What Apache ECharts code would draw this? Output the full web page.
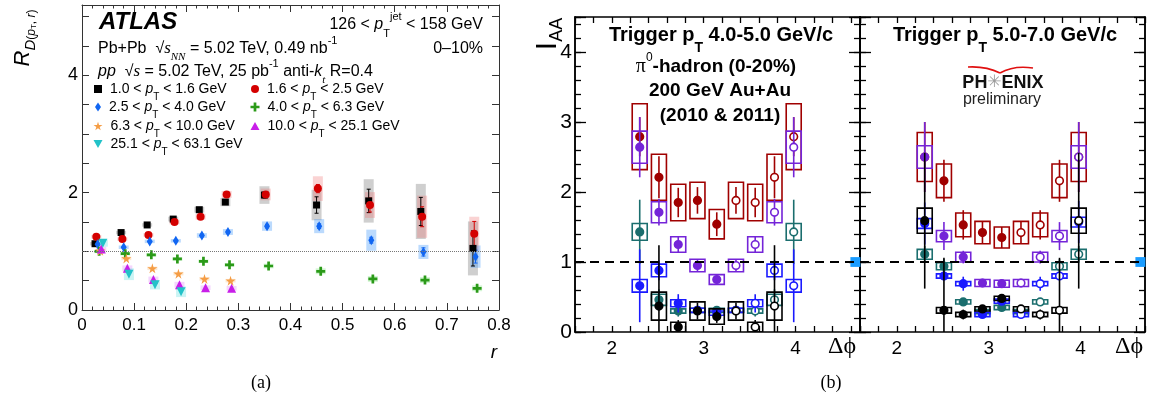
<!DOCTYPE html>
<html><head><meta charset="utf-8">
<script src="https://cdn.jsdelivr.net/npm/echarts@6/dist/echarts.min.js"></script>
<style>html,body{margin:0;padding:0;background:#fff}#c{width:1150px;height:403px}</style>
</head><body><div id="c"></div><script>
const SANS = '"Liberation Sans", Arial, Helvetica, sans-serif';
const SERIF = '"Liberation Serif", "Times New Roman", serif';

// ---------- (a) ATLAS: R_D vs r ----------
const rBlack = [0.025,0.075,0.125,0.175,0.225,0.275,0.350,0.450,0.550,0.650,0.750];
const vBlack = [1.13,1.32,1.45,1.55,1.71,1.84,1.96,1.79,1.86,1.68,1.05];
const sysBlack = [0.03,0.03,0.03,0.04,0.05,0.07,0.15,0.26,0.37,0.47,0.46];
const statBlack = [0.01,0.01,0.01,0.01,0.02,0.03,0.05,0.14,0.20,0.24,0.30];

const rRed = [0.0275,0.0775,0.1275,0.1775,0.2275,0.2775,0.3525,0.4525,0.5525,0.6525,0.7525];
const vRed = [1.25,1.21,1.28,1.50,1.59,1.97,1.97,2.07,1.79,1.59,1.30];
const sysRed = [0.03,0.03,0.03,0.04,0.05,0.06,0.10,0.21,0.22,0.36,0.29];
const statRed = [0.01,0.01,0.01,0.02,0.02,0.03,0.04,0.07,0.12,0.17,0.21];

const rBlue = [0.030,0.080,0.130,0.180,0.230,0.280,0.355,0.455,0.555,0.655,0.755];
const vBlue = [1.12,1.07,1.17,1.18,1.27,1.33,1.43,1.43,1.19,0.99,0.91];
const sysBlue = [0.03,0.03,0.03,0.03,0.04,0.05,0.08,0.12,0.18,0.12,0.19];
const statBlue = [0.01,0.01,0.01,0.01,0.02,0.02,0.03,0.04,0.05,0.07,0.11];

const rGreen = [0.033,0.083,0.133,0.183,0.233,0.283,0.358,0.458,0.558,0.658,0.758];
const vGreen = [1.00,0.96,0.94,0.87,0.83,0.77,0.75,0.66,0.53,0.51,0.37];
const sysGreen = [0.03,0.03,0.03,0.03,0.03,0.03,0.04,0.05,0.05,0.05,0.05];

const rOrange = [0.035,0.085,0.135,0.185,0.235,0.285];
const vOrange = [1.01,0.88,0.71,0.62,0.53,0.50];
const sysOrange = [0.03,0.03,0.03,0.03,0.03,0.03];

const rMagenta = [0.037,0.087,0.137,0.187,0.237,0.287];
const vMagenta = [1.04,0.71,0.52,0.43,0.38,0.37];
const sysMagenta = [0.04,0.05,0.05,0.05,0.04,0.04];

const rCyan = [0.040,0.090,0.140,0.190];
const vCyan = [1.14,0.61,0.43,0.31];
const sysCyan = [0.06,0.10,0.08,0.09];

const legendLo = ['1.0','1.6','2.5','4.0','6.3','10.0','25.1'];
const legendHi = ['1.6','2.5','4.0','6.3','10.0','25.1','63.1'];

// ---------- (b) PHENIX: I_AA vs delta phi ----------
const dphi = [2.304,2.513,2.723,2.932,3.142,3.351,3.560,3.770,3.979];

const midRed = [2.79,2.21,1.85,1.88,1.54,1.88,1.85,2.21,2.79];
const midRedStat = [0.28,0.30,0.21,0.19,0.17,0.19,0.21,0.30,0.28];
const midRedSys = [0.47,0.33,0.26,0.26,0.21,0.26,0.26,0.33,0.47];
const midPurple = [2.64,1.71,1.25,0.95,0.75,0.95,1.25,1.71,2.64];
const midPurpleStat = [0.43,0.19,0.11,0.08,0.06,0.08,0.11,0.19,0.43];
const midPurpleSys = [0.23,0.15,0.11,0.09,0.07,0.09,0.11,0.15,0.23];
const midTeal = [1.43,0.46,0.30,0.31,0.31,0.31,0.30,0.46,1.43];
const midTealStat = [0.46,0.15,0.08,0.06,0.05,0.06,0.08,0.15,0.46];
const midTealSys = [0.12,0.08,0.03,0.03,0.03,0.03,0.03,0.08,0.12];
const midBlue = [0.66,0.88,0.41,0.31,0.27,0.31,0.41,0.88,0.66];
const midBlueStat = [0.52,0.14,0.13,0.06,0.05,0.06,0.13,0.14,0.52];
const midBlueSys = [0.09,0.09,0.05,0.03,0.03,0.03,0.05,0.09,0.09];
const midBlack = [null,0.37,0.07,0.30,0.22,0.30,0.07,0.37,null];
const midBlackStat = [null,0.87,0.10,0.12,0.09,0.12,0.10,0.87,null];
const midBlackSys = [null,0.20,0.07,0.13,0.11,0.13,0.07,0.20,null];

const rgtRed = [2.50,2.16,1.53,1.42,1.35,1.42,1.53,2.16,2.50];
const rgtRedStat = [0.50,0.30,0.21,0.16,0.15,0.16,0.21,0.30,0.50];
const rgtRedSys = [0.35,0.24,0.17,0.16,0.15,0.16,0.17,0.24,0.35];
const rgtPurple = [2.50,1.37,1.07,0.70,0.69,0.70,1.07,1.37,2.50];
const rgtPurpleStat = [0.50,0.20,0.09,0.06,0.05,0.06,0.09,0.20,0.50];
const rgtPurpleSys = [0.16,0.08,0.07,0.05,0.05,0.05,0.07,0.08,0.16];
const rgtTeal = [1.11,0.94,0.43,0.29,0.35,0.29,0.43,0.94,1.11];
const rgtTealStat = [0.12,0.10,0.05,0.04,0.03,0.04,0.05,0.10,0.12];
const rgtTealSys = [0.07,0.05,0.03,0.03,0.03,0.03,0.03,0.05,0.07];
const rgtBlue = [1.55,0.80,0.69,0.25,0.44,0.25,0.69,0.80,1.57];
const rgtBlueStat = [0.30,0.06,0.10,0.03,0.03,0.03,0.10,0.06,0.30];
const rgtBlueSys = [0.07,0.03,0.03,0.03,0.03,0.03,0.03,0.03,0.07];
const rgtBlack = [1.59,0.31,0.25,0.33,0.48,0.33,0.25,0.31,1.59];
const rgtBlackStat = [0.97,0.75,0.07,0.05,0.04,0.05,0.07,0.75,0.97];
const rgtBlackSys = [0.18,0.04,0.03,0.03,0.03,0.03,0.03,0.04,0.18];

const normPoint = [4.65, 1];
const normHalf = 0.07;

// ---------- styles ----------
const STAR = 'path://M50,0 L61,35 L98,35 L68,57 L79,91 L50,70 L21,91 L32,57 L2,35 L39,35 Z';
const PLUS = 'path://M35,0 H65 V35 H100 V65 H65 V100 H35 V65 H0 V35 H35 Z';
const DTRI = 'path://M0,0 L100,0 L50,87 Z';

const atlasSets = [
  {name:'s0', r:rBlack, v:vBlack, sys:sysBlack, stat:statBlack, color:'#000000', box:'rgba(130,130,130,0.38)', symbol:'rect', size:7, iw:8, ih:8},
  {name:'s1', r:rRed, v:vRed, sys:sysRed, stat:statRed, color:'#d40000', box:'rgba(240,110,110,0.30)', symbol:'circle', size:8, iw:8, ih:8},
  {name:'s2', r:rBlue, v:vBlue, sys:sysBlue, stat:statBlue, color:'#1166f2', box:'rgba(60,150,250,0.35)', symbol:'diamond', size:[6,10], iw:6, ih:9},
  {name:'s3', r:rGreen, v:vGreen, sys:sysGreen, color:'#2b9a18', box:'rgba(80,220,80,0.25)', symbol:PLUS, size:9, iw:9, ih:9},
  {name:'s4', r:rOrange, v:vOrange, sys:sysOrange, color:'#f59d45', box:'rgba(250,180,100,0.30)', symbol:STAR, size:10, iw:9, ih:9},
  {name:'s5', r:rMagenta, v:vMagenta, sys:sysMagenta, color:'#c81ee8', box:'rgba(220,120,250,0.30)', symbol:'triangle', size:9, iw:9, ih:8},
  {name:'s6', r:rCyan, v:vCyan, sys:sysCyan, color:'#22c2c8', box:'rgba(80,220,220,0.30)', symbol:DTRI, size:9, iw:9, ih:8}
];
const legendPos = [[98,95],[255,95],[98,113],[255,113],[98,132],[255,132],[98,150]];

const C_RED = '#a00000', C_PUR = '#7424d8', C_TEAL = '#1b6e6e', C_BLUE = '#1a1aff', C_BLK = '#000000';
const midSets = [
  {v:midRed, st:midRedStat, sy:midRedSys, c:C_RED},
  {v:midPurple, st:midPurpleStat, sy:midPurpleSys, c:C_PUR},
  {v:midTeal, st:midTealStat, sy:midTealSys, c:C_TEAL},
  {v:midBlue, st:midBlueStat, sy:midBlueSys, c:C_BLUE},
  {v:midBlack, st:midBlackStat, sy:midBlackSys, c:C_BLK}
];
const rgtSets = [
  {v:rgtRed, st:rgtRedStat, sy:rgtRedSys, c:C_RED},
  {v:rgtPurple, st:rgtPurpleStat, sy:rgtPurpleSys, c:C_PUR},
  {v:rgtTeal, st:rgtTealStat, sy:rgtTealSys, c:C_TEAL},
  {v:rgtBlue, st:rgtBlueStat, sy:rgtBlueSys, c:C_BLUE},
  {v:rgtBlack, st:rgtBlackStat, sy:rgtBlackSys, c:C_BLK}
];

// ---------- axes ----------
function atlasX(pos, labels) {
  return {gridIndex:0, type:'value', position:pos, min:0, max:0.8, interval:0.1,
    axisLine:{show:true, onZero:false, lineStyle:{color:'#333', width:1}},
    axisTick:{show:true, inside:true, length:7, lineStyle:{color:'#333', width:1}},
    minorTick:{show:true, splitNumber:5, length:3.5, lineStyle:{color:'#333', width:1}},
    axisLabel:{show:labels, color:'#000', fontSize:17, fontFamily:SANS, margin:7,
      formatter: v => String(Math.round(v*10)/10)},
    splitLine:{show:false}, minorSplitLine:{show:false}};
}
function atlasY(pos, labels) {
  return {gridIndex:0, type:'value', position:pos, min:0, max:5.2, interval:0.5,
    axisLine:{show:true, onZero:false, lineStyle:{color:'#333', width:1}},
    axisTick:{show:true, inside:true, length:7, lineStyle:{color:'#333', width:1}},
    axisLabel:{show:labels, color:'#000', fontSize:18, fontFamily:SANS, margin:4,
      formatter: v => (Math.abs(v-0)<1e-6||Math.abs(v-2)<1e-6||Math.abs(v-4)<1e-6) ? String(Math.round(v)) : ''},
    splitLine:{show:false}};
}
function phxX(g, pos, labels) {
  return {gridIndex:g, type:'value', position:pos, min:1.6, max:4.7, interval:0.2,
    axisLine:{show:true, onZero:false, lineStyle:{color:'#000', width:1.5}},
    axisTick:{show:true, inside:true, length:6, lineStyle:{color:'#000', width:1.3}},
    axisLabel:{show:labels, color:'#000', fontSize:19, fontFamily:SANS, margin:7, interval:0,
      formatter: v => Math.abs(v-Math.round(v))<1e-6 ? String(Math.round(v)) : ''},
    splitLine:{show:false}};
}
function phxY(g, pos, major, labels) {
  return {gridIndex:g, type:'value', position:pos, min:0, max:4.5, interval: major ? 1 : 0.2,
    axisLine:{show:true, onZero:false, lineStyle:{color:'#000', width:1.5}},
    axisTick:{show:true, inside:true, length: major ? 11 : 6, lineStyle:{color:'#000', width:1.3}},
    axisLabel:{show:labels, color:'#000', fontSize:21, fontFamily:SANS, margin:3,
      formatter: v => Math.abs(v-Math.round(v))<1e-6 ? String(Math.round(v)) : ''},
    splitLine:{show:false}};
}

// ---------- renderers ----------
function boxRender(fill) {
  return function (params, api) {
    const x = api.value(0), y = api.value(1), s = api.value(2);
    const t = api.coord([x, y + s]), b = api.coord([x, y - s]);
    return {type:'rect', shape:{x:t[0]-5, y:t[1], width:10, height:Math.max(b[1]-t[1], 2)}, style:{fill:fill}};
  };
}
function errRender(color) {
  return function (params, api) {
    const x = api.value(0), y = api.value(1), s = api.value(2);
    const t = api.coord([x, y + s]), b = api.coord([x, y - s]);
    return {type:'group', children:[
      {type:'line', shape:{x1:t[0], y1:t[1], x2:b[0], y2:b[1]}, style:{stroke:color, lineWidth:1}},
      {type:'line', shape:{x1:t[0]-2, y1:t[1], x2:t[0]+2, y2:t[1]}, style:{stroke:color, lineWidth:1}},
      {type:'line', shape:{x1:b[0]-2, y1:b[1], x2:b[0]+2, y2:b[1]}, style:{stroke:color, lineWidth:1}}
    ]};
  };
}
function phxRender(color) {
  return function (params, api) {
    const x = api.value(0), y = api.value(1), st = api.value(2), sy = api.value(3);
    const c = api.coord([x, y]);
    const bt = api.coord([x, y + sy]), bb = api.coord([x, y - sy]);
    const et = api.coord([x, y + st]), eb = api.coord([x, y - st]);
    const filled = x < 3.2;
    return {type:'group', children:[
      {type:'rect', shape:{x:c[0]-7.5, y:bt[1], width:15, height:bb[1]-bt[1]}, style:{fill:'none', stroke:color, lineWidth:1.6}},
      {type:'line', shape:{x1:c[0], y1:et[1], x2:c[0], y2:eb[1]}, style:{stroke:color, lineWidth:1.6}},
      {type:'circle', shape:{cx:c[0], cy:c[1], r:3.8}, style:{fill: filled ? color : '#ffffff', stroke:color, lineWidth:1.6}}
    ]};
  };
}
function normRender(params, api) {
  const x = api.value(0), y = api.value(1), s = api.value(2);
  const t = api.coord([x, y + s]), b = api.coord([x, y - s]);
  return {type:'rect', shape:{x:t[0]-5, y:t[1], width:10, height:b[1]-t[1]}, style:{fill:'#1a9cff'}};
}

// ---------- series ----------
const series = [];
atlasSets.forEach(s => {
  series.push({type:'custom', xAxisIndex:0, yAxisIndex:0, renderItem:boxRender(s.box), silent:true,
    data: s.r.map((r,i) => [r, s.v[i], s.sys[i]]), z:1});
});
atlasSets.forEach(s => {
  if (!s.stat) return;
  series.push({type:'custom', xAxisIndex:0, yAxisIndex:0, renderItem:errRender(s.color), silent:true,
    data: s.r.map((r,i) => [r, s.v[i], s.stat[i]]), z:2});
});
atlasSets.forEach((s, k) => {
  const ser = {type:'scatter', name:s.name, xAxisIndex:0, yAxisIndex:0, symbol:s.symbol, symbolSize:s.size,
    itemStyle:{color:s.color, opacity:1}, data: s.r.map((r,i) => [r, s.v[i]]), z:3, silent:true};
  if (k === 0) {
    ser.markLine = {silent:true, symbol:['none','none'], label:{show:false}, animation:false,
      lineStyle:{type:'dotted', color:'#777', width:1}, data:[{yAxis:1}]};
  }
  series.push(ser);
});

function addPhx(sets, xi, yi) {
  series.push({type:'custom', xAxisIndex:xi, yAxisIndex:yi, renderItem:normRender, silent:true,
    data:[[normPoint[0], normPoint[1], normHalf]], z:2,
    markLine:{silent:true, symbol:['none','none'], label:{show:false}, animation:false,
      lineStyle:{type:[9,6], color:'#000', width:2}, data:[{yAxis:1}]}});
  sets.forEach(s => {
    const data = [];
    dphi.forEach((x, i) => { if (s.v[i] != null) data.push([x, s.v[i], s.st[i], s.sy[i]]); });
    series.push({type:'custom', xAxisIndex:xi, yAxisIndex:yi, renderItem:phxRender(s.c), clip:true, silent:true, data:data, z:3});
  });
}
addPhx(midSets, 2, 2);
addPhx(rgtSets, 4, 6);

// ---------- legend ----------
const legendRich = {
  n:{fontSize:14, fontFamily:SANS, color:'#000', lineHeight:26},
  i:{fontSize:14, fontFamily:SANS, fontStyle:'italic', color:'#000', lineHeight:26},
  s:{fontSize:10, fontFamily:SANS, color:'#000', lineHeight:9, verticalAlign:'bottom'}
};
const legends = atlasSets.map((s, k) => ({
  data:[s.name], orient:'horizontal', left: legendPos[k][0] - s.iw/2, top: legendPos[k][1] - 13,
  itemWidth:s.iw, itemHeight:s.ih, padding:0, selectedMode:false,
  formatter: () => `{n|${legendLo[k]} < }{i|p}{s|T}{n| < ${legendHi[k]} GeV}`,
  textStyle:{padding:[0,0,0,3], rich:legendRich}
}));

// ---------- text ----------
function T(x, y, text, rich, opt) {
  return Object.assign({type:'text', x:x, y:y, silent:true, z:50,
    style:Object.assign({text:text, rich:rich || undefined, fill:'#000', fontFamily:SANS, fontSize:16,
      textAlign:'left', textVerticalAlign:'middle'}, (opt && opt.style) || {})}, (opt && opt.el) || {});
}
const hdr = {
  n:{fontSize:16, fontFamily:SANS, fill:'#000', lineHeight:28},
  i:{fontSize:16, fontFamily:SANS, fontStyle:'italic', fill:'#000', lineHeight:28},
  si:{fontSize:17, fontFamily:SERIF, fontStyle:'italic', fill:'#000', lineHeight:28},
  sb:{fontSize:11, fontFamily:SANS, fill:'#000', lineHeight:11, verticalAlign:'bottom'},
  sbi:{fontSize:11, fontFamily:SERIF, fontStyle:'italic', fill:'#000', lineHeight:11, verticalAlign:'bottom'},
  sp:{fontSize:11, fontFamily:SANS, fill:'#000', lineHeight:11, verticalAlign:'top'}
};
const phx = {
  b:{fontSize:20, fontFamily:SANS, fontWeight:'bold', fill:'#000', lineHeight:40},
  bs:{fontSize:14, fontFamily:SANS, fontWeight:'bold', fill:'#000', lineHeight:14, verticalAlign:'bottom'},
  m:{fontSize:19, fontFamily:SANS, fontWeight:'bold', fill:'#000', lineHeight:30},
  pi:{fontSize:20, fontFamily:SERIF, fill:'#000', lineHeight:30},
  sp:{fontSize:12, fontFamily:SANS, fill:'#000', lineHeight:12, verticalAlign:'top'}
};
const graphics = [
  T(99, 22, 'ATLAS', null, {style:{fontSize:24, fontWeight:'bold', fontStyle:'italic'}}),
  T(483, 25, '{n|126 < }{i|p}{sb|T}{sp|jet}{n| < 158 GeV}', hdr, {style:{textAlign:'right'}}),
  T(98, 49, '{n|Pb+Pb  √}{si|s}{sbi|NN}{n| = 5.02 TeV, 0.49 nb}{sp|-1}', hdr),
  T(483, 49, '{n|0–10%}', hdr, {style:{textAlign:'right'}}),
  T(98, 72, '{i|pp}{n|  √}{si|s}{n| = 5.02 TeV, 25 pb}{sp|-1}{n| anti-}{i|k}{sbi|t}{n| R=0.4}', hdr),
  T(23, 38, '{R|R}{D|D}{p|(}{pi|p}{pt|T}{p|, }{pi|r}{p|)}', {
      R:{fontSize:22, fontFamily:SANS, fontStyle:'italic', fill:'#000', lineHeight:30},
      D:{fontSize:15, fontFamily:SANS, fontStyle:'italic', fill:'#000', lineHeight:20, verticalAlign:'bottom'},
      p:{fontSize:12, fontFamily:SANS, fill:'#000', lineHeight:19, verticalAlign:'bottom'},
      pi:{fontSize:12, fontFamily:SANS, fontStyle:'italic', fill:'#000', lineHeight:19, verticalAlign:'bottom'},
      pt:{fontSize:8, fontFamily:SANS, fill:'#000', lineHeight:9, verticalAlign:'bottom'}
    }, {style:{textAlign:'center'}, el:{rotation:Math.PI/2}}),
  T(494, 353, 'r', null, {style:{fontSize:19, fontStyle:'italic', textAlign:'center'}}),
  T(261, 383, '(a)', null, {style:{fontSize:18, fontFamily:SERIF, textAlign:'center'}}),
  T(831, 383, '(b)', null, {style:{fontSize:18, fontFamily:SERIF, textAlign:'center'}}),
  T(548, 34, '{I|I}{A|AA}', {
      I:{fontSize:30, fontFamily:SANS, fill:'#000', lineHeight:36},
      A:{fontSize:18, fontFamily:SANS, fill:'#000', lineHeight:18, verticalAlign:'bottom'}
    }, {style:{textAlign:'center'}, el:{rotation:Math.PI/2}}),
  T(842, 347, 'Δϕ', null, {style:{fontSize:24, fontFamily:SERIF, textAlign:'center'}}),
  T(1129, 347, 'Δϕ', null, {style:{fontSize:24, fontFamily:SERIF, textAlign:'center'}}),
  T(721, 35, '{b|Trigger p}{bs|T}{b| 4.0-5.0 GeV/c}', phx, {style:{textAlign:'center'}}),
  T(716, 67, '{pi|π}{sp|0}{m|-hadron (0-20%)}', phx, {style:{textAlign:'center'}}),
  T(720, 91, '{m|200 GeV Au+Au}', phx, {style:{textAlign:'center', fontSize:18}}),
  T(720, 116, '{m|(2010 & 2011)}', phx, {style:{textAlign:'center'}}),
  T(1005, 35, '{b|Trigger p}{bs|T}{b| 5.0-7.0 GeV/c}', phx, {style:{textAlign:'center'}}),
  T(1003, 83, '{a|PH}{s|✳}{a|ENIX}', {
      a:{fontSize:18, fontFamily:SANS, fontWeight:'bold', fill:'#111', lineHeight:22},
      s:{fontSize:17, fontFamily:'"DejaVu Sans", sans-serif', fill:'#9a9a9a', lineHeight:22}
    }, {style:{textAlign:'center'}}),
  T(1002, 100, 'preliminary', null, {style:{fontSize:16, fill:'#222', textAlign:'center'}}),
  {type:'bezierCurve', silent:true, z:50, shape:{x1:968, y1:67, cpx1:986, cpy1:66, x2:1000, y2:73},
    style:{fill:'none', stroke:'#e01010', lineWidth:1.6}},
  {type:'bezierCurve', silent:true, z:50, shape:{x1:1000, y1:73, cpx1:1014, cpy1:65, x2:1033, y2:68},
    style:{fill:'none', stroke:'#e01010', lineWidth:1.6}}
];

const option = {
  animation:false,
  backgroundColor:'#ffffff',
  textStyle:{fontFamily:SANS},
  grid:[
    {left:82, top:5, width:417, height:305, outerBoundsMode:'none'},
    {left:575, top:17, width:285, height:315, outerBoundsMode:'none'},
    {left:860, top:17, width:285, height:315, outerBoundsMode:'none'}
  ],
  xAxis:[atlasX('bottom', true), atlasX('top', false),
         phxX(1,'bottom',true), phxX(1,'top',false),
         phxX(2,'bottom',true), phxX(2,'top',false)],
  yAxis:[atlasY('left', true), atlasY('right', false),
         phxY(1,'left',true,true), phxY(1,'left',false,false), phxY(1,'right',true,false), phxY(1,'right',false,false),
         phxY(2,'left',true,false), phxY(2,'left',false,false), phxY(2,'right',true,false), phxY(2,'right',false,false)],
  legend:legends,
  graphic:{elements:graphics},
  series:series
};
const chart = echarts.init(document.getElementById('c'), null, {renderer:'canvas'});
chart.setOption(option);
</script></body></html>
